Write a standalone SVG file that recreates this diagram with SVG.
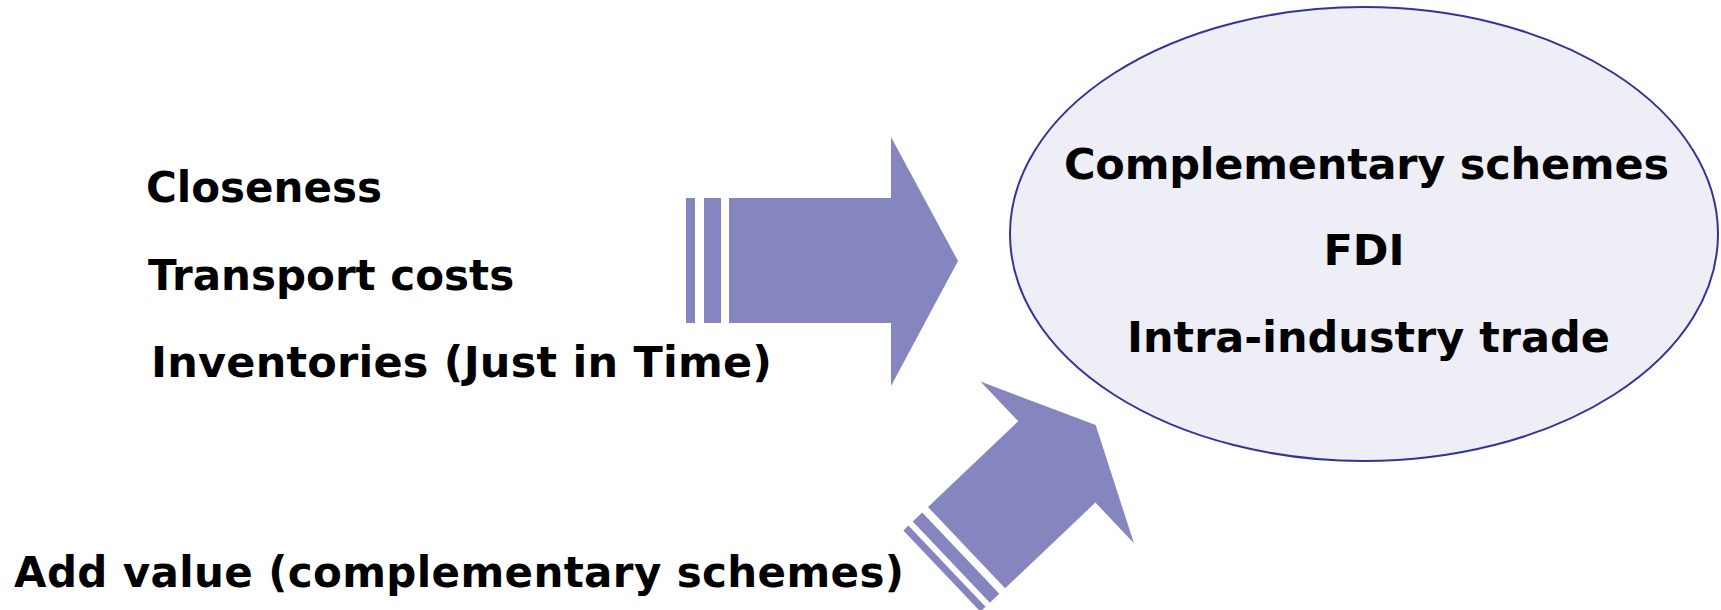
<svg xmlns="http://www.w3.org/2000/svg" width="1721" height="610" viewBox="0 0 1721 610">
  <style>
    .t { font-family: "DejaVu Sans", "Liberation Sans", sans-serif; font-weight: bold; font-size: 42px; fill: #000000; }
    .e { font-size: 43px; }
    .arrow { fill: #8585BF; stroke: none; }
  </style>
  <rect width="1721" height="610" fill="#FFFFFF"/>
  <g id="outcomes">
    <ellipse cx="1364" cy="234" rx="354" ry="227" fill="#EEEEF7" stroke="#333399" stroke-width="2"/>
    <text class="t e" x="1064" y="179" textLength="605" lengthAdjust="spacing">Complementary schemes</text>
    <text class="t e" x="1364" y="265" text-anchor="middle">FDI</text>
    <text class="t e" x="1127" y="352" textLength="483" lengthAdjust="spacing">Intra-industry trade</text>
  </g>
  <g id="factors">
    <text class="t" x="146" y="202">Closeness</text>
    <text class="t" x="148" y="290">Transport costs</text>
    <text class="t e" x="151" y="377" textLength="621" lengthAdjust="spacing">Inventories (Just in Time)</text>
  </g>
  <g id="addvalue">
    <text class="t" x="14" y="587" textLength="890" lengthAdjust="spacing">Add value (complementary schemes)</text>
  </g>
  <g id="connectors">
    <g id="arrow1">
      <rect class="arrow" x="686" y="198" width="9" height="125"/>
      <rect class="arrow" x="704" y="198" width="17" height="125"/>
      <polygon class="arrow" points="729,198 891,198 891,137 958,261 891,386 891,323 729,323"/>
    </g>
    <g id="arrow2" transform="translate(928,507) rotate(46.5)">
      <rect class="arrow" x="0" y="8" width="112" height="13"/>
      <rect class="arrow" x="0" y="27" width="112" height="7"/>
      <polygon class="arrow" points="0,0 112,0 112,-124.5 168,-124.5 56,-178 -55,-124.5 0,-124.5"/>
    </g>
  </g>
</svg>
